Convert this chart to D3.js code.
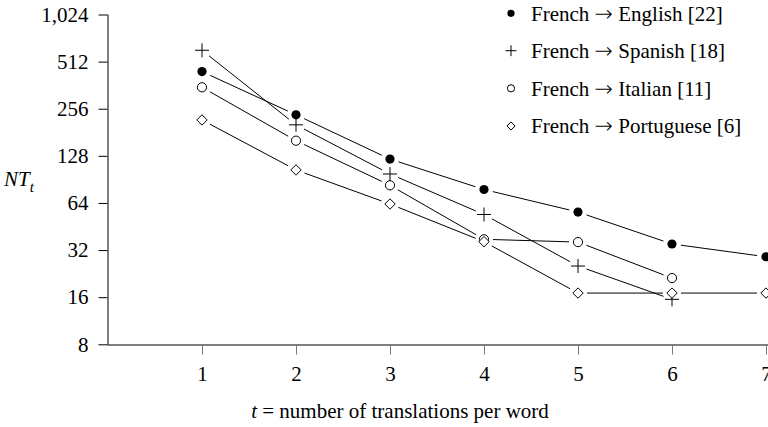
<!DOCTYPE html>
<html>
<head>
<meta charset="utf-8">
<script src="https://cdn.jsdelivr.net/npm/d3@7"></script>
<style>
  html, body { margin: 0; padding: 0; background: #fff; }
  svg { display: block; font-family: "Liberation Serif", "Times New Roman", serif; }
</style>
</head>
<body>
<svg id="chart" width="768" height="427"></svg>
<script>
// translations per word (t)
const tValues = [1, 2, 3, 4, 5, 6, 7];
const yTicks = [8, 16, 32, 64, 128, 256, 512, 1024];

// number of words with exactly t translations, per language pair
const english    = [442, 234, 122, 78, 56, 35, 29];
const spanish    = [605, 202, 98, 54, 25.3, 15.5];
const italian    = [351, 160, 83, 37.5, 36, 21.2];
const portuguese = [217, 104, 63, 36.2, 17, 17, 17];

const sourceLang = "French";
const targetLangs = ["English [22]", "Spanish [18]", "Italian [11]", "Portuguese [6]"];
const seriesValues = [english, spanish, italian, portuguese];
const markerKinds = ["dot", "plus", "circle", "diamond"];

const svg = d3.select("#chart");

const x = d3.scaleLinear().domain([0, 7]).range([108, 766]);
const y = d3.scaleLog().base(2).domain([8, 1024]).range([344.3, 14.5]);

// y axis
const yAxis = svg.append("g").attr("transform", "translate(107.5,0)")
  .call(d3.axisLeft(y).tickValues(yTicks).tickFormat(d3.format(",")).tickSize(9).tickPadding(10));
yAxis.select(".domain").attr("stroke", "#000").attr("d", "M0.5,14.5V344.8");
yAxis.selectAll(".tick line").attr("stroke", "#000");
yAxis.selectAll(".tick text").attr("font-size", 21).attr("fill", "#000")
  .attr("font-family", "'Liberation Serif', serif");

// x axis
const xAxis = svg.append("g").attr("transform", "translate(0,344.5)")
  .call(d3.axisBottom(x).tickValues(tValues).tickFormat(d3.format("d")).tickSize(10).tickPadding(12));
xAxis.select(".domain").attr("stroke", "#000").attr("d", "M107.5,0.5H768");
xAxis.selectAll(".tick line").attr("stroke", "#777");
xAxis.selectAll(".tick text").attr("font-size", 21).attr("fill", "#000")
  .attr("font-family", "'Liberation Serif', serif");

// axis titles
const yTitle = svg.append("text").attr("x", 4).attr("y", 186)
  .attr("font-size", 21).attr("font-style", "italic");
yTitle.append("tspan").text("NT");
yTitle.append("tspan").attr("font-size", 15).attr("dy", 6).text("t");

const xTitle = svg.append("text").attr("x", 400).attr("y", 418)
  .attr("text-anchor", "middle").attr("font-size", 21);
xTitle.append("tspan").attr("font-style", "italic").text("t");
xTitle.append("tspan").text(" = number of translations per word");

// marker drawing
function drawMarker(g, kind, cx, cy, s) {
  if (kind === "dot") {
    g.append("circle").attr("cx", cx).attr("cy", cy).attr("r", 4.6 * s).attr("fill", "#000");
  } else if (kind === "circle") {
    g.append("circle").attr("cx", cx).attr("cy", cy).attr("r", 4.6 * s)
      .attr("fill", "#fff").attr("stroke", "#000").attr("stroke-width", 1);
  } else if (kind === "plus") {
    const h = 7 * s;
    g.append("path").attr("d", `M${cx - h},${cy}H${cx + h}M${cx},${cy - h}V${cy + h}`)
      .attr("stroke", "#000").attr("stroke-width", 1).attr("fill", "none");
  } else if (kind === "diamond") {
    const h = 5.2 * s;
    g.append("path").attr("d", `M${cx},${cy - h}L${cx + h},${cy}L${cx},${cy + h}L${cx - h},${cy}Z`)
      .attr("fill", "#fff").attr("stroke", "#000").attr("stroke-width", 1);
  }
}

// series: line segments stop short of the markers
const gap = 9;
seriesValues.forEach((vals, si) => {
  const g = svg.append("g");
  const pts = vals.map((v, i) => [x(tValues[i]), y(v)]);
  for (let i = 0; i < pts.length - 1; i++) {
    const [x0, y0] = pts[i], [x1, y1] = pts[i + 1];
    const len = Math.hypot(x1 - x0, y1 - y0);
    const ux = (x1 - x0) / len, uy = (y1 - y0) / len;
    g.append("line")
      .attr("x1", x0 + ux * gap).attr("y1", y0 + uy * gap)
      .attr("x2", x1 - ux * gap).attr("y2", y1 - uy * gap)
      .attr("stroke", "#000").attr("stroke-width", 1);
  }
  pts.forEach(([px, py]) => drawMarker(g, markerKinds[si], px, py, 1));
});

// legend
const legendRows = [13.3, 50.7, 88.3, 126];
const legend = svg.append("g");
targetLangs.forEach((lang, i) => {
  drawMarker(legend, markerKinds[i], 511, legendRows[i], 0.78);
  const t = legend.append("text").attr("x", 531).attr("y", legendRows[i]).attr("dy", "0.35em")
    .attr("font-size", 21);
  t.append("tspan").text(sourceLang + " ");
  t.append("tspan").attr("font-family", "'DejaVu Sans', sans-serif").attr("font-size", 22)
    .attr("font-weight", 200).text("\u2192");
  t.append("tspan").text(" " + lang);
});
</script>
</body>
</html>
